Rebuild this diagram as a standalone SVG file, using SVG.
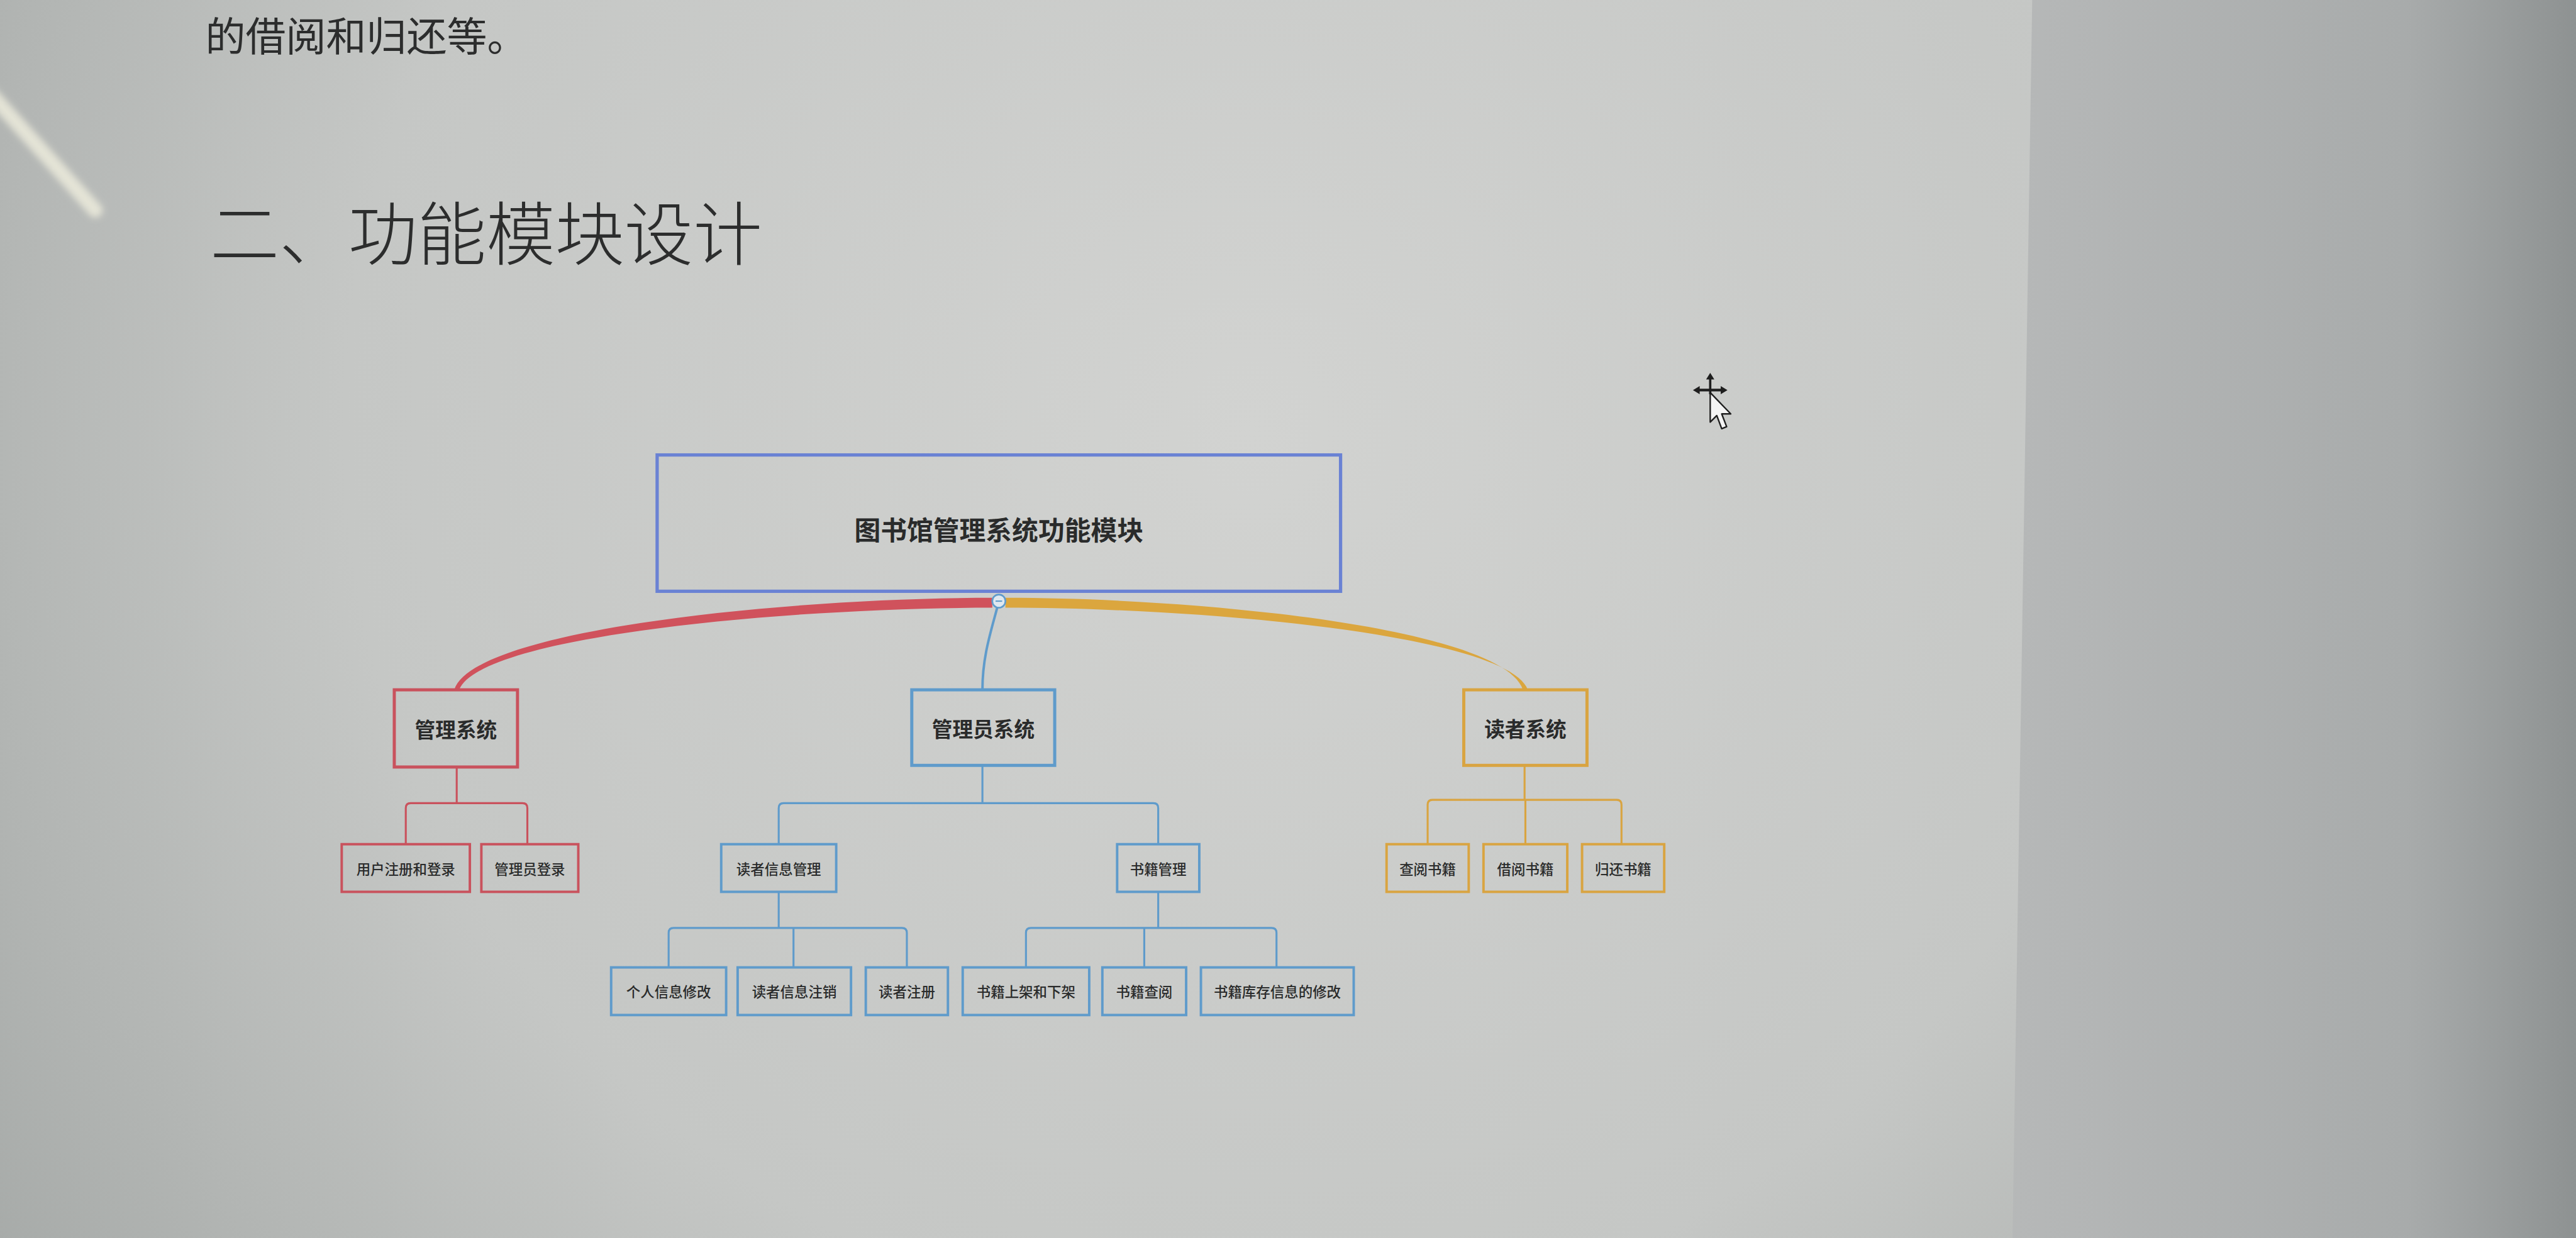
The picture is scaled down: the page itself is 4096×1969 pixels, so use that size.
<svg xmlns="http://www.w3.org/2000/svg" width="4096" height="1969" viewBox="0 0 4096 1969">
<style>
.t{font-family:"Noto Sans CJK SC","Noto Sans",sans-serif;fill:#2a2b2b;text-anchor:middle;dominant-baseline:central}
.s{font-size:8.6px;font-weight:500}
.h{font-family:"Noto Sans CJK SC","Noto Sans",sans-serif;fill:#2c2d2d}
.red{stroke:#c9525d;fill:none}
.blue{stroke:#5f9bcb;fill:none}
.org{stroke:#d9a441;fill:none}
.b1{stroke-width:1.9}
.b2{stroke-width:1.5}
.c{stroke-width:1.2;fill:none}
</style>
<defs>
<radialGradient id="pg" cx="760" cy="260" r="1000" gradientUnits="userSpaceOnUse">
<stop offset="0" stop-color="#d2d3d1"/>
<stop offset="0.55" stop-color="#c5c7c5"/>
<stop offset="1" stop-color="#a0a4a2"/>
</radialGradient>
<linearGradient id="rp" x1="1225" y1="0" x2="1568" y2="0" gradientUnits="userSpaceOnUse">
<stop offset="0" stop-color="#b6b8b8"/>
<stop offset="0.7" stop-color="#a8abab"/>
<stop offset="1" stop-color="#8e9292"/>
</linearGradient>
<filter id="bl" x="-50%" y="-50%" width="200%" height="200%"><feGaussianBlur stdDeviation="2"/></filter>
</defs>
<g transform="scale(2.61224)">
<rect x="0" y="0" width="1568" height="754" fill="url(#pg)"/>
<polygon points="1237,0 1568,0 1568,754 1225,754" fill="url(#rp)"/>
<line x1="-5" y1="58" x2="58" y2="128" stroke="#ecebdc" stroke-width="9" stroke-linecap="round" opacity="0.85" filter="url(#bl)"/>

<text class="h" x="125" y="31" font-size="24.5">的借阅和归还等。</text>
<text class="h" x="128" y="158" font-size="42" font-weight="300">二、功能模块设计</text>

<g id="connectors">
<path d="M604 364 C480 364 288 383 276.5 420 L279.5 420 C292 387 480 370 604 370 Z" fill="#d0525c"/>
<path d="M612 364 C735 364 915 383 927 420 L930 420 C918 387 735 370 612 370 Z" fill="#dba63e"/>
<path class="blue" d="M607 370 C603 385 598 400 598 420" stroke-width="1.5"/>
<g class="red c">
<path d="M278 467 V489"/>
<path d="M247 514 V492 Q247 489 250 489 H318 Q321 489 321 492 V514"/>
</g>
<g class="blue c">
<path d="M598 466 V489"/>
<path d="M474 514 V492 Q474 489 477 489 H702 Q705 489 705 492 V514"/>
<path d="M474 543 V565"/>
<path d="M407 589 V568 Q407 565 410 565 H549 Q552 565 552 568 V589"/>
<path d="M483 565 V589"/>
<path d="M705 543 V565"/>
<path d="M624.5 589 V568 Q624.5 565 627.5 565 H774 Q777 565 777 568 V589"/>
<path d="M696.5 565 V589"/>
</g>
<g class="org c">
<path d="M928 466 V487"/>
<path d="M869 514 V490 Q869 487 872 487 H984 Q987 487 987 490 V514"/>
<path d="M928.5 487 V514"/>
</g>
</g>

<g id="root">
<rect x="400" y="277" width="416" height="83" stroke="#6a82d4" stroke-width="2" fill="none"/>
<text class="t" x="608" y="322" font-size="16" font-weight="700">图书馆管理系统功能模块</text>
<circle cx="608" cy="366" r="4" fill="#dfe8f0" stroke="#5f9bcb" stroke-width="1"/>
<line x1="606" y1="366" x2="610" y2="366" stroke="#5f9bcb" stroke-width="0.8"/>
</g>

<g id="n-guanli">
<rect class="red b1" x="240" y="420" width="75" height="47"/>
<text class="t" x="277.5" y="443.5" font-size="12.5" font-weight="700">管理系统</text>
</g>
<g id="n-admin">
<rect class="blue b1" x="555" y="420" width="87" height="46"/>
<text class="t" x="598.5" y="443" font-size="12.5" font-weight="700">管理员系统</text>
</g>
<g id="n-reader">
<rect class="org b1" x="891" y="420" width="75" height="46"/>
<text class="t" x="928.5" y="443" font-size="12.5" font-weight="700">读者系统</text>
</g>

<g id="n-register">
<rect class="red b2" x="208" y="514" width="78" height="29"/>
<text class="t s" x="247" y="528.5">用户注册和登录</text>
</g>
<g id="n-adminlogin">
<rect class="red b2" x="293" y="514" width="59" height="29"/>
<text class="t s" x="322.5" y="528.5">管理员登录</text>
</g>
<g id="n-readerinfo">
<rect class="blue b2" x="439" y="514" width="70" height="29"/>
<text class="t s" x="474" y="528.5">读者信息管理</text>
</g>
<g id="n-bookmgmt">
<rect class="blue b2" x="680" y="514" width="50" height="29"/>
<text class="t s" x="705" y="528.5">书籍管理</text>
</g>
<g id="n-query">
<rect class="org b2" x="844" y="514" width="50" height="29"/>
<text class="t s" x="869" y="528.5">查阅书籍</text>
</g>
<g id="n-borrow">
<rect class="org b2" x="903" y="514" width="51" height="29"/>
<text class="t s" x="928.5" y="528.5">借阅书籍</text>
</g>
<g id="n-return">
<rect class="org b2" x="963" y="514" width="50" height="29"/>
<text class="t s" x="988" y="528.5">归还书籍</text>
</g>

<g id="n-modify">
<rect class="blue b2" x="372" y="589" width="70" height="29"/>
<text class="t s" x="407" y="603.5">个人信息修改</text>
</g>
<g id="n-cancel">
<rect class="blue b2" x="449" y="589" width="69" height="29"/>
<text class="t s" x="483.5" y="603.5">读者信息注销</text>
</g>
<g id="n-readerreg">
<rect class="blue b2" x="527" y="589" width="50" height="29"/>
<text class="t s" x="552" y="603.5">读者注册</text>
</g>
<g id="n-shelf">
<rect class="blue b2" x="586" y="589" width="77" height="29"/>
<text class="t s" x="624.5" y="603.5">书籍上架和下架</text>
</g>
<g id="n-bookquery">
<rect class="blue b2" x="671" y="589" width="51" height="29"/>
<text class="t s" x="696.5" y="603.5">书籍查阅</text>
</g>
<g id="n-stock">
<rect class="blue b2" x="731" y="589" width="93" height="29"/>
<text class="t s" x="777.5" y="603.5">书籍库存信息的修改</text>
</g>

<g id="cursor" stroke-linejoin="round">
<path d="M1041 227 L1038.5 231 H1040.3 V236.7 H1034.6 V235 L1030.5 237.5 L1034.6 240 V238.3 H1040.3 V240 H1041.7 V238.3 H1047.4 V240 L1051.5 237.5 L1047.4 235 V236.7 H1041.7 V231 H1043.5 Z" fill="#1e1e1e"/>
<path d="M1041 239 V257 L1045 253 L1048 261 L1051 259.8 L1048 252 L1053.5 252 Z" fill="#f4f4f4" stroke="#1e1e1e" stroke-width="0.9"/>
</g>
</g>
</svg>
